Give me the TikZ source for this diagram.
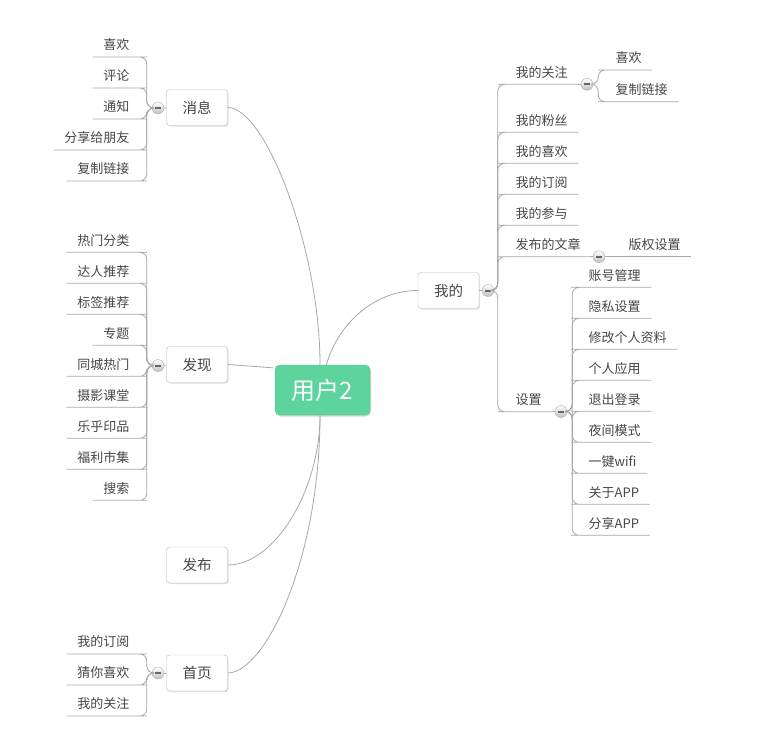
\documentclass[tikz,border=0pt]{standalone}
\usepackage{fontspec}
\newfontfamily\cjk{Noto Sans CJK SC}
\usepackage{xcolor}
\usetikzlibrary{shadows}

\definecolor{rootc}{RGB}{93,211,158}
\definecolor{txt}{RGB}{70,70,70}
\definecolor{linec}{RGB}{168,168,168}
\definecolor{boxc}{RGB}{182,182,182}

\tikzset{
  root/.style={fill=rootc, draw=rootc!92!black, rounded corners=5pt,
    minimum width=95pt, minimum height=50pt, text=white,
    font=\cjk\fontsize{24}{28}\selectfont,
    drop shadow={shadow xshift=1pt, shadow yshift=-1.5pt, opacity=0.35}},
  topic/.style={fill=white, draw=boxc, rounded corners=3pt,
    minimum width=61pt, minimum height=36pt, text=txt,
    font=\cjk\fontsize{14.5}{17}\selectfont,
    drop shadow={shadow xshift=1pt, shadow yshift=-1pt, opacity=0.25}},
  leaf/.style={inner xsep=10.5pt, inner ysep=5pt, text height=11pt, text depth=2pt,
    text=txt, font=\cjk\fontsize{13}{15}\selectfont},
  leafl/.style={leaf, anchor=south east},
  leafr/.style={leaf, anchor=south west},
  fold/.style={circle, draw=black!32, inner sep=0pt, minimum size=12pt,
    top color=white, bottom color=black!25,
    path picture={\draw[line width=2pt, black!60]
      ([xshift=-2.6pt]path picture bounding box.center) --
      ([xshift=2.6pt]path picture bounding box.center);}},
  ln/.style={draw=linec, line width=0.8pt},
  br/.style={ln, rounded corners=7pt},
}

\begin{document}
\begin{tikzpicture}[x=1pt, y=-1pt, font=\cjk]
  \useasboundingbox (0,0) rectangle (766,750);

  % central and main topics
  \node[root] (root) at (322.5,390) {用户2};
  \node[topic] (xiaoxi) at (197,107.5) {消息};
  \node[topic] (faxian) at (197,364.5) {发现};
  \node[topic] (fabu) at (197,565) {发布};
  \node[topic] (shouye) at (197,673) {首页};
  \node[topic] (wode) at (448.5,290.5) {我的};

  \draw[ln] (xiaoxi.east) .. controls +(38,0) and +(0,-115) .. ([xshift=-2.5pt]root.north);
  \draw[ln] (faxian.east) -- ([xshift=-2pt, yshift=-3pt]root.north west);
  \draw[ln] (fabu.east) .. controls +(47,0) and +(0,75) .. ([xshift=-2.5pt]root.south);
  \draw[ln] (shouye.east) .. controls +(37,0) and +(0,145) .. ([xshift=-2.5pt]root.south);
  \draw[ln] ([xshift=4pt]root.north) .. controls +(9,-35) and +(-48,0) .. (wode.west);

  % folding markers
  \node[fold] (mxx) at (158,108) {};
  \node[fold] (mfx) at (158,365.5) {};
  \node[fold] (msy) at (158,673) {};
  \node[fold] (mwd) at (488,290.5) {};
  \draw[ln] (xiaoxi) -- (mxx);
  \draw[ln] (faxian) -- (mfx);
  \draw[ln] (shouye) -- (msy);
  \draw[ln] (wode) -- (mwd);

  % 消息
  \foreach \t [count=\i] in {喜欢,评论,通知,分享给朋友,复制链接} {
    \node[leafl] (xx\i) at (140,26+31*\i) {\t};
    \draw[br] (mxx.west) -- ++(-5,0) |- (xx\i.south east) -- (xx\i.south west);
  }

  % 发现
  \foreach \t [count=\i] in {热门分类,达人推荐,标签推荐,专题,同城热门,摄影课堂,乐乎印品,福利市集,搜索} {
    \node[leafl] (fx\i) at (140,221.3+31*\i) {\t};
    \draw[br] (mfx.west) -- ++(-5,0) |- (fx\i.south east) -- (fx\i.south west);
  }

  % 首页
  \foreach \t [count=\i] in {我的订阅,猜你喜欢,我的关注} {
    \node[leafl] (sy\i) at (140,623+31*\i) {\t};
    \draw[br] (msy.west) -- ++(-5,0) |- (sy\i.south east) -- (sy\i.south west);
  }

  % 我的
  \foreach \t/\y [count=\i] in {我的关注/84.3,我的粉丝/132.3,我的喜欢/163.3,我的订阅/194.3,
      我的参与/225.3,发布的文章/256.7,设置/411.7} {
    \node[leafr] (wd\i) at (505,\y) {\t};
    \draw[br] (mwd.east) -- ++(3.5,0) |- (wd\i.south west) -- (wd\i.south east);
  }

  \node[fold] (mgz) at (587,84.3) {};
  \node[fold] (mwz) at (599,256.7) {};
  \node[fold] (msz) at (561,411.5) {};
  \draw[ln] (wd1.south east) -- (mgz.west);
  \draw[ln] (wd6.south east) -- (mwz.west);
  \draw[ln] (wd7.south east) -- (msz.west);

  \foreach \t/\y [count=\i] in {喜欢/70,复制链接/101.7} {
    \node[leafr] (gz\i) at (605,\y) {\t};
    \draw[br] (mgz.east) -- ++(5,0) |- (gz\i.south west) -- (gz\i.south east);
  }

  \node[leafr] (wz1) at (618,256.7) {版权设置};
  \draw[ln] (mwz.east) -- (wz1.south west) -- (wz1.south east);

  \foreach \t [count=\i] in {账号管理,隐私设置,修改个人资料,个人应用,退出登录,夜间模式,一键wifi,关于APP,分享APP} {
    \node[leafr] (sz\i) at (578,256.3+31*\i) {\t};
    \draw[br] (msz.east) -- ++(5,0) |- (sz\i.south west) -- (sz\i.south east);
  }
\end{tikzpicture}
\end{document}
